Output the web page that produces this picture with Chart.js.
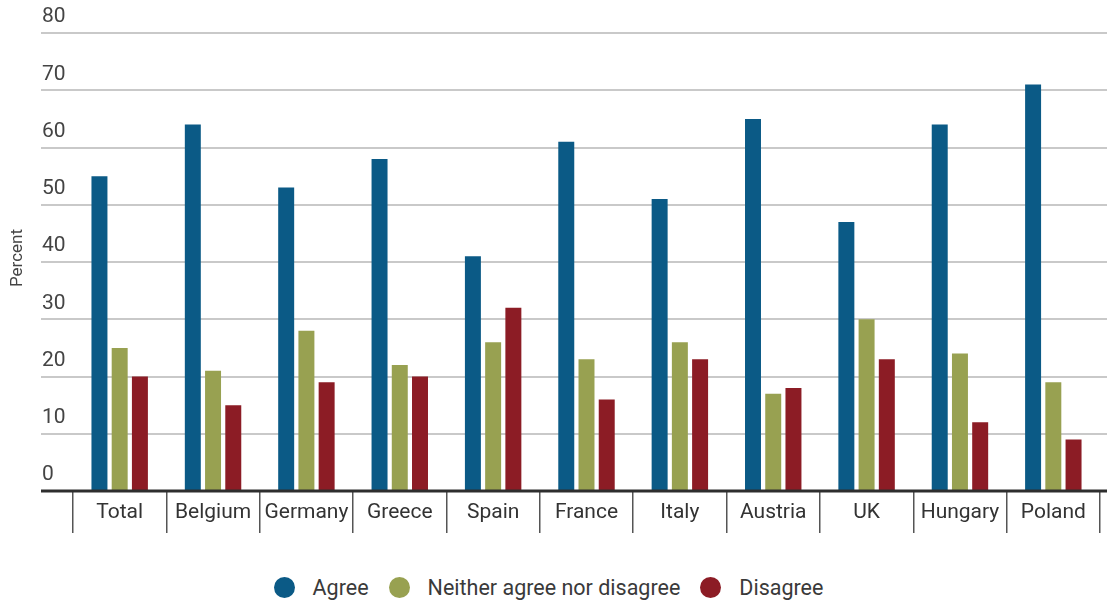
<!DOCTYPE html>
<html><head><meta charset="utf-8">
<script src="https://cdn.jsdelivr.net/npm/chart.js@4/dist/chart.umd.min.js"></script>
<style>
body{margin:0;background:#fff;}
#wrap{position:relative;width:1107px;height:606px;overflow:hidden;}
#c{position:absolute;left:0;top:0;}
#legend{position:absolute;left:0;top:575px;width:1097px;display:flex;justify-content:center;align-items:center;font-family:Roboto,sans-serif;font-size:21.5px;color:#3a3a3a;}
.item{display:flex;align-items:center;margin:0 10px;white-space:nowrap;}
.dot{width:21px;height:21px;border-radius:50%;margin-right:18px;}
</style></head>
<body><div id="wrap"><canvas id="c" width="1107" height="560"></canvas><div id="legend"></div></div>
<script>
const categories = ['Total','Belgium','Germany','Greece','Spain','France','Italy','Austria','UK','Hungary','Poland'];
const agree    = [55, 64, 53, 58, 41, 61, 51, 65, 47, 64, 71];
const neither  = [25, 21, 28, 22, 26, 23, 26, 17, 30, 24, 19];
const disagree = [20, 15, 19, 20, 32, 16, 23, 18, 23, 12, 9];
const seriesNames = ['Agree', 'Neither agree nor disagree', 'Disagree'];
const seriesColors = ['#0b5a86', '#98a151', '#8c1c25'];
const yTickValues = [0, 10, 20, 30, 40, 50, 60, 70, 80];
const yTitle = 'Percent';

const seriesData = [agree, neither, disagree];
const FONT = 'Roboto, sans-serif';

const gridPlugin = {
  id: 'customGrid',
  beforeDatasetsDraw(chart) {
    const ctx = chart.ctx, y = chart.scales.y;
    ctx.save();
    ctx.strokeStyle = '#c9c9c9';
    ctx.lineWidth = 2;
    yTickValues.forEach(v => {
      if (v === 0) return;
      const py = Math.round(y.getPixelForValue(v));
      ctx.beginPath(); ctx.moveTo(41, py); ctx.lineTo(chart.width, py); ctx.stroke();
    });
    ctx.restore();
  },
  afterDatasetsDraw(chart) {
    const ctx = chart.ctx, y = chart.scales.y;
    ctx.save();
    ctx.strokeStyle = '#2e2e2e';
    ctx.lineWidth = 3;
    const py = y.getPixelForValue(0);
    ctx.beginPath(); ctx.moveTo(41, py); ctx.lineTo(chart.width, py); ctx.stroke();
    ctx.fillStyle = '#444';
    ctx.font = '17px ' + FONT;
    ctx.textAlign = 'center'; ctx.textBaseline = 'middle';
    ctx.translate(18, 258); ctx.rotate(-Math.PI / 2);
    ctx.fillText(yTitle, 0, 0);
    ctx.restore();
  }
};

new Chart(document.getElementById('c'), {
  type: 'bar',
  data: {
    labels: categories,
    datasets: seriesData.map((d, i) => ({
      label: seriesNames[i],
      data: d,
      backgroundColor: seriesColors[i],
      borderWidth: 0,
      categoryPercentage: 0.65,
      barPercentage: 0.79
    }))
  },
  options: {
    responsive: false,
    animation: false,
    layout: { padding: { left: 42, right: 7, top: 33, bottom: 0 } },
    plugins: { legend: { display: false }, tooltip: { enabled: false } },
    scales: {
      x: {
        grid: { display: true, drawOnChartArea: false, drawTicks: true, tickLength: 42, color: '#555', lineWidth: 1.5, offset: true },
        border: { display: false },
        ticks: { padding: -33, color: '#333', font: { family: FONT, size: 21 }, maxRotation: 0, autoSkip: false },
        afterFit(s) { s.height = 69; }
      },
      y: {
        min: 0, max: 80,
        afterBuildTicks(s) { s.ticks = yTickValues.map(v => ({ value: v })); },
        grid: { display: false },
        border: { display: false },
        ticks: { crossAlign: 'far', labelOffset: -16, color: '#444', font: { family: FONT, size: 21 }, padding: 0 },
        afterFit(s) { s.width = 31; }
      }
    }
  },
  plugins: [gridPlugin]
});

const legend = document.getElementById('legend');
seriesNames.forEach((n, i) => {
  const it = document.createElement('div'); it.className = 'item';
  const dot = document.createElement('span'); dot.className = 'dot'; dot.style.background = seriesColors[i];
  const t = document.createElement('span'); t.textContent = n;
  it.appendChild(dot); it.appendChild(t); legend.appendChild(it);
});
</script>
</body></html>
